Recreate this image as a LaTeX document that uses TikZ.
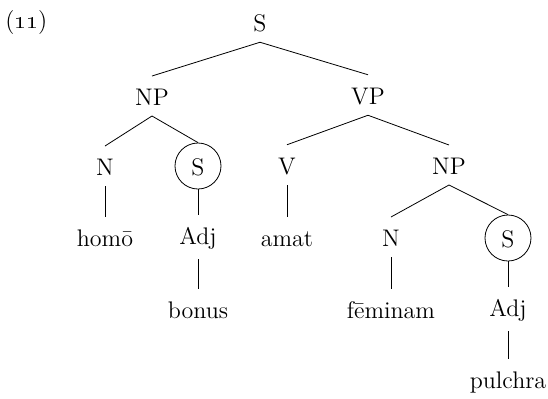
\documentclass[tikz,border=0pt]{standalone}
\begin{document}
\begin{tikzpicture}[x=0.5pt, y=-0.5pt, every node/.style={font=\large},
        cat/.style={inner sep=5pt, text height=9.6pt},
        rel/.style={draw, circle, inner sep=0pt, minimum size=23pt, text height=9.6pt}]
        \useasboundingbox (0,0) rectangle (548,398);
        \node (num) at (5,23) [right, inner sep=0pt]{(\oldstylenums{11})};
        % categories
        \node (s) at (260,22) [cat]{S};
        \node (np) at (152,96) [cat]{NP};
        \node (vp) at (368,95) [cat]{VP};
        \node (n) at (105,166) [cat]{N};
        \node (sa) at (198,166) [rel]{S};
        \node (v) at (287,165) [cat]{V};
        \node (npb) at (449,165) [cat]{NP};
        \node (homo) at (105,237) [cat]{homō};
        \node (adja) at (198,237) [cat]{Adj};
        \node (amat) at (287,237) [cat]{amat};
        \node (nb) at (391,237) [cat]{N};
        \node (sb) at (508,238) [rel]{S};
        \node (bonus) at (198,309) [cat]{bonus};
        \node (fem) at (391,309) [cat]{fēminam};
        \node (adjb) at (508,309) [cat]{Adj};
        \node (pul) at (508,381) [cat]{pulchra};
        % branches
        \foreach \a/\b in {s/np, s/vp, np/n, np/sa, vp/v, vp/npb, n/homo, sa/adja,
            adja/bonus, v/amat, npb/nb, npb/sb, nb/fem, sb/adjb, adjb/pul}
            {\draw (\a.south)--(\b.north);}
    \end{tikzpicture}
\end{document}
